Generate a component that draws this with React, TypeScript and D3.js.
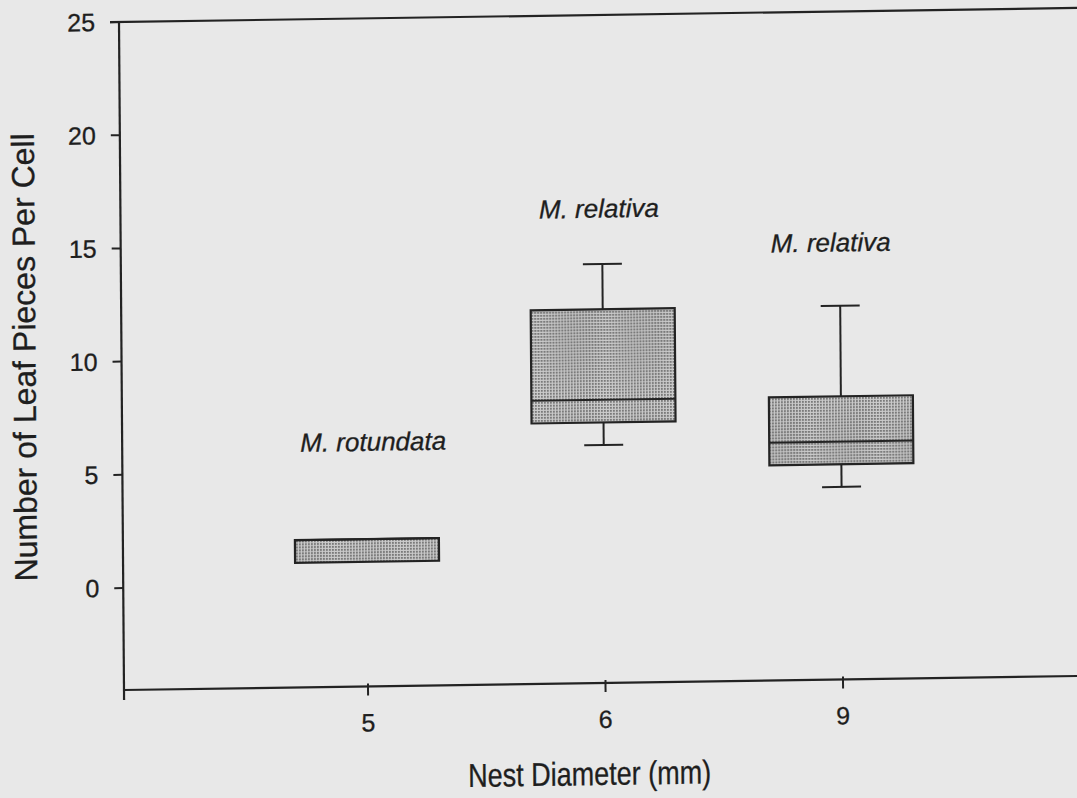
import React from "react";
import * as d3 from "d3";

// ---- data ----
const categories = ["5", "6", "9"];
const species = ["M. rotundata", "M. relativa", "M. relativa"];
const whiskerLow = [1, 6, 4];
const q1 = [1, 7, 5];
const median = [2, 8, 6];
const q3 = [2, 12, 8];
const whiskerHigh = [2, 14, 12];
const yTicks = [0, 5, 10, 15, 20, 25];
const labelValue = [5.9, 16.05, 14.4];
const labelOffset = [-66, -63, -69];

const W = 1077;
const H = 798;
const left = 124;
const bottom = 690;
const topY = 22;
const rightX = 1110;

const INK = "#232323";
const TXT = "#1e1e1e";

export default function App() {
  const y = d3.scaleLinear().domain([0, 25]).range([588, topY]);
  const x = d3.scalePoint<string>().domain(categories).range([368, 843]);
  const boxW = 144;
  const capW = 39;

  const fmt = d3.format("d");

  return (
    <svg
      width={W}
      height={H}
      style={{ position: "absolute", left: 0, top: 0, display: "block" }}
      fontFamily="'Liberation Sans', Arial, sans-serif"
    >
      <defs>
        <pattern id="stip" width="3" height="3" patternUnits="userSpaceOnUse">
          <rect width="3" height="3" fill="#cbcbcb" />
          <rect x="0" y="0" width="2" height="2" fill="#7a7a7a" />
        </pattern>
      </defs>
      <rect width={W} height={H} fill="#e8e8e8" />
      <g
        transform={`translate(${left},${bottom}) matrix(1,-0.0147,0.0075,1,0,0) translate(${-left},${-bottom})`}
      >
        {/* frame */}
        <line x1={left} x2={left} y1={topY} y2={bottom + 10} stroke={INK} strokeWidth={2.2} />
        <line x1={left} x2={rightX} y1={bottom} y2={bottom} stroke={INK} strokeWidth={2.2} />
        <line x1={left - 9} x2={rightX} y1={topY} y2={topY} stroke={INK} strokeWidth={2.2} />

        {/* y ticks */}
        {yTicks.map((t) => (
          <g key={t}>
            <line x1={left - 9} x2={left} y1={y(t)} y2={y(t)} stroke={INK} strokeWidth={2} />
            <text
              x={left - 24}
              y={y(t)}
              dy="0.35em"
              textAnchor="end"
              fontSize={25}
              fill={TXT}
              stroke={TXT}
              strokeWidth={0.3}
            >
              {fmt(t)}
            </text>
          </g>
        ))}

        {/* x ticks */}
        {categories.map((c) => (
          <g key={c}>
            <line x1={x(c)} x2={x(c)} y1={bottom - 3} y2={bottom + 9} stroke={INK} strokeWidth={2} />
            <text
              x={x(c)}
              y={bottom + 45}
              textAnchor="middle"
              fontSize={25}
              fill={TXT}
              stroke={TXT}
              strokeWidth={0.3}
            >
              {c}
            </text>
          </g>
        ))}

        {/* boxes */}
        {categories.map((c, i) => {
          const cx = x(c) as number;
          return (
            <g key={"b" + i}>
              {whiskerHigh[i] > q3[i] && (
                <>
                  <line x1={cx} x2={cx} y1={y(whiskerHigh[i])} y2={y(q3[i])} stroke={INK} strokeWidth={2} />
                  <line
                    x1={cx - capW / 2}
                    x2={cx + capW / 2}
                    y1={y(whiskerHigh[i])}
                    y2={y(whiskerHigh[i])}
                    stroke={INK}
                    strokeWidth={2}
                  />
                </>
              )}
              {whiskerLow[i] < q1[i] && (
                <>
                  <line x1={cx} x2={cx} y1={y(q1[i])} y2={y(whiskerLow[i])} stroke={INK} strokeWidth={2} />
                  <line
                    x1={cx - capW / 2}
                    x2={cx + capW / 2}
                    y1={y(whiskerLow[i])}
                    y2={y(whiskerLow[i])}
                    stroke={INK}
                    strokeWidth={2}
                  />
                </>
              )}
              <rect
                x={cx - boxW / 2}
                y={y(q3[i])}
                width={boxW}
                height={y(q1[i]) - y(q3[i])}
                fill="url(#stip)"
                stroke={INK}
                strokeWidth={2.2}
              />
              <line
                x1={cx - boxW / 2}
                x2={cx + boxW / 2}
                y1={y(median[i])}
                y2={y(median[i])}
                stroke={INK}
                strokeWidth={2}
              />
              <text
                x={cx + labelOffset[i]}
                y={y(labelValue[i])}
                fontSize={26}
                fontStyle="italic"
                fill={TXT}
                stroke={TXT}
                strokeWidth={0.3}
              >
                {species[i]}
              </text>
            </g>
          );
        })}

        {/* axis titles */}
        <text
          transform={`translate(38,356) rotate(-90)`}
          textAnchor="middle"
          fontSize={32}
          fill={TXT}
          stroke={TXT}
          strokeWidth={0.3}
        >
          Number of Leaf Pieces Per Cell
        </text>
        <text
          x={589}
          y={792}
          textAnchor="middle"
          fontSize={33}
          textLength={243}
          lengthAdjust="spacingAndGlyphs"
          fill={TXT}
          stroke={TXT}
          strokeWidth={0.3}
        >
          Nest Diameter (mm)
        </text>
      </g>
    </svg>
  );
}
